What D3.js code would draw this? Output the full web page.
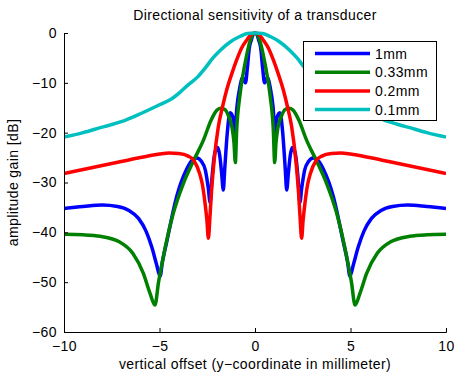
<!DOCTYPE html>
<html>
<head>
<meta charset="utf-8">
<script src="https://cdn.jsdelivr.net/npm/d3@7"></script>
<style>
  body { margin: 0; background: #fff; }
  svg text { font-family: "Liberation Sans", Arial, sans-serif; fill: #000; letter-spacing: 0.4px; }
</style>
</head>
<body>
<svg id="chart" width="455" height="372"></svg>
<script>
// series labels and colours
const labels = ["1mm", "0.33mm", "0.2mm", "0.1mm"];
const colors = ["#0000ff", "#008000", "#ff0000", "#00bfbf"];

const xTicks = [-10, -5, 0, 5, 10];
const yTicks = [0, -10, -20, -30, -40, -50, -60];

// values (offset in mm, gain in dB)
const x1mm = [-10, -9, -8, -7.2, -6.6, -6.1, -5.7, -5.4, -5.15, -4.97, -4.85, -4.6, -4.1, -3.6, -3.3, -3.05, -2.8, -2.6, -2.45, -2.35, -2.25, -2.1, -1.95, -1.85, -1.75, -1.66, -1.58, -1.45, -1.3, -1.15, -1.05, -0.95, -0.8, -0.65, -0.5, -0.4, -0.3, -0.2, -0.1, 0,
  0.1, 0.2, 0.3, 0.4, 0.5, 0.65, 0.8, 0.95, 1.05, 1.15, 1.3, 1.45, 1.58, 1.66, 1.75, 1.85, 1.95, 2.1, 2.25, 2.35, 2.45, 2.6, 2.8, 3.05, 3.3, 3.6, 4.1, 4.6, 4.85, 4.97, 5.15, 5.4, 5.7, 6.1, 6.6, 7.2, 8, 9, 10];
const y1mm = [-35.2, -34.8, -34.5, -34.8, -35.6, -37.2, -39.8, -43, -46.5, -48.8, -46, -41.5, -32.8, -27.5, -25.6, -25.1, -25.8, -27.5, -31, -34, -29, -24, -23, -24.5, -28, -31.5, -27, -20, -16, -17, -20, -15, -11, -9, -10, -7, -3, -1.5, -0.3, 0,
  -0.3, -1.5, -3, -7, -10, -9, -11, -15, -20, -17, -16, -20, -27, -31.5, -28, -24.5, -23, -24, -29, -34, -31, -27.5, -25.8, -25.1, -25.6, -27.5, -32.8, -41.5, -46, -48.8, -46.5, -43, -39.8, -37.2, -35.6, -34.8, -34.5, -34.8, -35.2];

const x033 = [-10, -9, -8.1, -7.1, -6.4, -5.85, -5.5, -5.24, -5.05, -4.8, -4.28, -3.75, -3.2, -2.7, -2.3, -2.0, -1.8, -1.6, -1.4, -1.2, -1.1, -1.03, -0.96, -0.8, -0.52, -0.25, 0,
  0.25, 0.52, 0.8, 0.96, 1.03, 1.1, 1.2, 1.4, 1.6, 1.8, 2.0, 2.3, 2.7, 3.2, 3.75, 4.28, 4.8, 5.05, 5.24, 5.5, 5.85, 6.4, 7.1, 8.1, 9, 10];
const y033 = [-40.4, -40.5, -40.8, -41.9, -44.2, -48.2, -52.2, -54.6, -50, -44.9, -36.2, -30.2, -25.5, -21.5, -17.5, -15.5, -15.1, -15.3, -16.5, -19, -22, -26, -19.5, -12.8, -6.1, -1.5, 0,
  -1.5, -6.1, -12.8, -19.5, -26, -22, -19, -16.5, -15.3, -15.1, -15.5, -17.5, -21.5, -25.5, -30.2, -36.2, -44.9, -50, -54.6, -52.2, -48.2, -44.2, -41.9, -40.8, -40.5, -40.4];

const x02 = [-10, -9, -8, -7, -6, -5, -4.5, -4, -3.5, -3.2, -2.9, -2.75, -2.62, -2.52, -2.44, -2.36, -2.28, -2.15, -1.92, -1.7, -1.48, -1.2, -0.96, -0.7, -0.43, -0.2, 0,
  0.2, 0.43, 0.7, 0.96, 1.2, 1.48, 1.7, 1.92, 2.15, 2.28, 2.36, 2.44, 2.52, 2.62, 2.75, 2.9, 3.2, 3.5, 4, 4.5, 5, 6, 7, 8, 9, 10];
const y02 = [-28.2, -27.4, -26.6, -25.8, -25, -24.3, -24.1, -24.2, -24.7, -25.6, -28.2, -30.5, -34, -37.5, -41.2, -37, -32, -26, -18.8, -14.8, -11.4, -8, -5.4, -3, -1.4, -0.3, 0,
  -0.3, -1.4, -3, -5.4, -8, -11.4, -14.8, -18.8, -26, -32, -37, -41.2, -37.5, -34, -30.5, -28.2, -25.6, -24.7, -24.2, -24.1, -24.3, -25, -25.8, -26.6, -27.4, -28.2];

const x01 = [-10, -9, -8.1, -7, -6, -5, -4.4, -3.9, -3.5, -3, -2.6, -2.2, -1.8, -1.3, -0.8, -0.4, 0,
  0.4, 0.8, 1.3, 1.8, 2.2, 2.6, 3, 3.5, 3.9, 4.4, 5, 6, 7, 8.1, 9, 10];
const y01 = [-20.9, -20, -19, -17.8, -16.2, -14.4, -13.3, -11.8, -10.4, -8.8, -7, -5, -3.4, -1.8, -0.7, -0.1, 0,
  -0.1, -0.7, -1.8, -3.4, -5, -7, -8.8, -10.4, -11.8, -13.3, -14.4, -16.2, -17.8, -19, -20, -20.9];

const xs = [x1mm, x033, x02, x01];
const ys = [y1mm, y033, y02, y01];

const margin = { top: 33, right: 9, bottom: 40, left: 64 };
const width = 455, height = 372;

const svg = d3.select('#chart');

const x = d3.scaleLinear().domain([-10, 10]).range([margin.left, width - margin.right]);
const y = d3.scaleLinear().domain([-60, 0]).range([height - margin.bottom, margin.top]);

svg.append('clipPath').attr('id', 'plot-clip')
  .append('rect')
  .attr('x', margin.left).attr('y', margin.top - 3)
  .attr('width', x(10) - x(-10)).attr('height', y(-60) - y(0) + 3);

const line = d3.line()
  .x(d => x(d[0]))
  .y(d => y(d[1]))
  .curve(d3.curveMonotoneX);

const plot = svg.append('g').attr('clip-path', 'url(#plot-clip)');

xs.forEach((xv, i) => {
  plot.append('path')
    .datum(xv.map((v, j) => [v, ys[i][j]]))
    .attr('d', line)
    .attr('fill', 'none')
    .attr('stroke', colors[i])
    .attr('stroke-width', 3.5)
    .attr('stroke-linejoin', 'round');
});

const minus = d => d3.format('d')(d).replace('-', '\u2212');

// axes, ticks pointing into the plot like matlab
const xAxis = svg.append('g')
  .attr('transform', `translate(0, ${y(-60)})`)
  .call(d3.axisBottom(x).tickValues(xTicks).tickSize(-4).tickPadding(9).tickFormat(minus));

const yAxis = svg.append('g')
  .attr('transform', `translate(${x(-10)}, 0)`)
  .call(d3.axisLeft(y).tickValues(yTicks).tickSize(-4).tickPadding(7).tickFormat(minus));

[xAxis, yAxis].forEach(g => {
  g.select('.domain').attr('stroke', '#000').attr('stroke-width', 1);
  g.selectAll('.tick line').attr('stroke', '#000');
  g.selectAll('.tick text').style('font-size', '14px').style('font-family', '"Liberation Sans", Arial, sans-serif');
});

svg.append('text')
  .attr('x', x(0)).attr('y', 20)
  .attr('text-anchor', 'middle')
  .style('font-size', '14px')
  .text('Directional sensitivity of a transducer');

svg.append('text')
  .attr('x', x(0)).attr('y', 369)
  .attr('text-anchor', 'middle')
  .style('font-size', '14px')
  .text('vertical offset (y\u2212coordinate in millimeter)');

svg.append('text')
  .attr('transform', `translate(18, ${y(-30)}) rotate(-90)`)
  .attr('text-anchor', 'middle')
  .style('font-size', '14px')
  .text('amplitude gain [dB]');

// legend
const legend = svg.append('g').attr('transform', 'translate(303.5, 41.5)');
legend.append('rect')
  .attr('width', 133).attr('height', 79)
  .attr('fill', '#fff').attr('stroke', '#000').attr('stroke-width', 1);

labels.forEach((lab, i) => {
  const row = legend.append('g').attr('transform', `translate(0, ${12 + i * 18.7})`);
  row.append('line')
    .attr('x1', 11.5).attr('x2', 66.5)
    .attr('stroke', colors[i]).attr('stroke-width', 3.5);
  row.append('text')
    .attr('x', 71.5).attr('y', 5)
    .style('font-size', '14px')
    .text(lab);
});
</script>
</body>
</html>
